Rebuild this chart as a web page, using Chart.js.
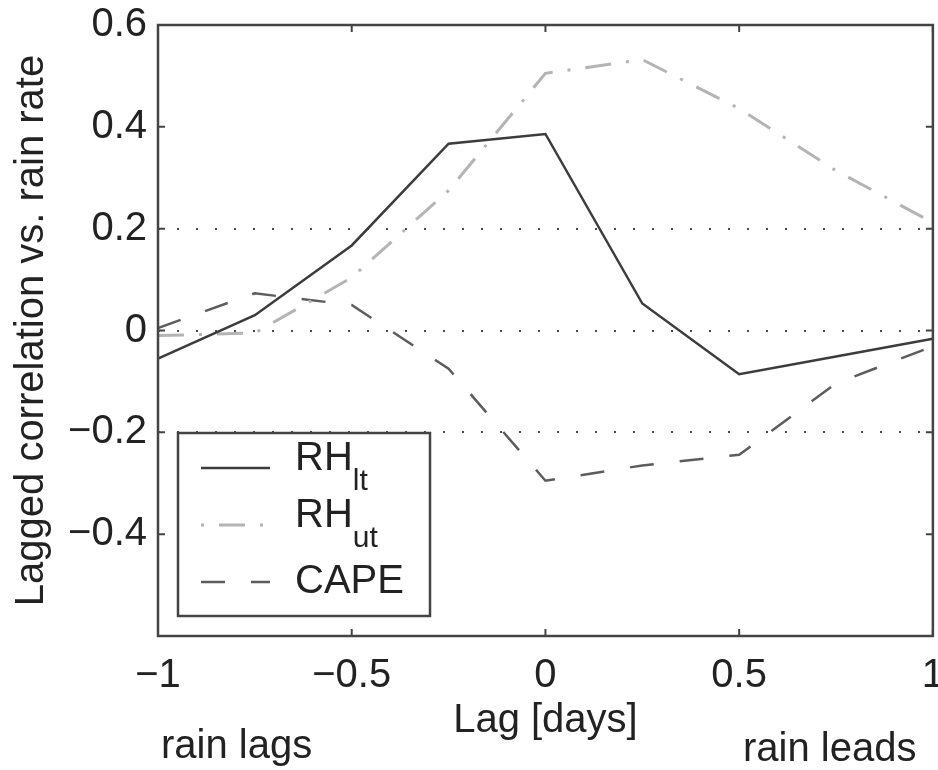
<!DOCTYPE html>
<html><head><meta charset="utf-8">
<script src="https://cdn.jsdelivr.net/npm/chart.js@4.4.1/dist/chart.umd.min.js"></script>
<style>
html,body{margin:0;padding:0;background:#fff;overflow:hidden;width:938px;height:770px}
canvas{display:block}
</style>
</head><body>
<canvas id="c" width="960" height="770" style="width:960px;height:770px"></canvas>
<script>
// ---- data ----
const lags = [-1, -0.75, -0.5, -0.25, 0, 0.25, 0.5, 0.75, 1];
const rhLt = [-0.055, 0.03, 0.167, 0.367, 0.386, 0.053, -0.086, -0.051, -0.016];
const rhUt = [-0.01, -0.005, 0.104, 0.275, 0.505, 0.532, 0.436, 0.314, 0.212];
const cape = [0.005, 0.073, 0.05, -0.075, -0.295, -0.265, -0.244, -0.104, -0.031];
const seriesNames = ['RH', 'RH', 'CAPE'];
const seriesSubs = ['lt', 'ut', ''];
const xTickValues = [-1, -0.5, 0, 0.5, 1];
const xTickLabels = ['\u22121', '\u22120.5', '0', '0.5', '1'];
const yTickValues = [-0.6, -0.4, -0.2, 0, 0.2, 0.4, 0.6];
const yTickLabels = ['', '\u22120.4', '\u22120.2', '0', '0.2', '0.4', '0.6'];
const refLines = [-0.2, 0, 0.2];
const xTitle = 'Lag [days]';
const yTitle = 'Lagged correlation vs. rain rate';
const leftNote = 'rain lags';
const rightNote = 'rain leads';

const FONT = '"Liberation Sans", Arial, Helvetica, sans-serif';
const TEXT = '#222';
const AXIS = '#444';

function pts(vals) { return lags.map((x, i) => ({ x: x, y: vals[i] })); }

const framePlugin = {
  id: 'frame',
  afterDatasetsDraw(chart) {
    const ctx = chart.ctx, ca = chart.chartArea;
    const xs = chart.scales.x, ys = chart.scales.y;
    ctx.save();
    ctx.strokeStyle = AXIS;
    ctx.lineWidth = 2.5;
    ctx.setLineDash([]);
    ctx.strokeRect(ca.left, ca.top, ca.right - ca.left, ca.bottom - ca.top);
    ctx.lineWidth = 2;
    const tl = 7;
    xTickValues.forEach(v => {
      const px = xs.getPixelForValue(v);
      ctx.beginPath();
      ctx.moveTo(px, ca.bottom); ctx.lineTo(px, ca.bottom - tl);
      ctx.moveTo(px, ca.top); ctx.lineTo(px, ca.top + tl);
      ctx.stroke();
    });
    yTickValues.forEach(v => {
      const py = ys.getPixelForValue(v);
      ctx.beginPath();
      ctx.moveTo(ca.left, py); ctx.lineTo(ca.left + tl, py);
      ctx.moveTo(ca.right, py); ctx.lineTo(ca.right - tl, py);
      ctx.stroke();
    });
    ctx.restore();

    // legend
    const bx = ca.left + 20, by = ca.top + 408, bw = 252, bh = 183;
    ctx.save();
    ctx.fillStyle = '#fff';
    ctx.fillRect(bx, by, bw, bh);
    ctx.strokeStyle = AXIS;
    ctx.lineWidth = 2.5;
    ctx.strokeRect(bx, by, bw, bh);
    const rowY = [35, 92, 149];
    chart.data.datasets.forEach((ds, i) => {
      const y = by + rowY[i];
      ctx.save();
      ctx.strokeStyle = ds.borderColor;
      ctx.lineWidth = ds.borderWidth;
      ctx.lineCap = 'butt';
      ctx.setLineDash(ds.borderDash || []);
      ctx.lineDashOffset = ds.legendDashOffset || 0;
      ctx.beginPath();
      ctx.moveTo(bx + 23, y); ctx.lineTo(bx + 92, y);
      ctx.stroke();
      ctx.restore();
      ctx.fillStyle = TEXT;
      ctx.textAlign = 'left';
      ctx.textBaseline = 'alphabetic';
      ctx.font = '40px ' + FONT;
      const tx = bx + 117;
      if (seriesSubs[i]) {
        ctx.fillText(seriesNames[i], tx, y + 2);
        const w = ctx.measureText(seriesNames[i]).width;
        ctx.font = '30px ' + FONT;
        ctx.fillText(seriesSubs[i], tx + w, y + 22);
      } else {
        ctx.fillText(seriesNames[i], tx, y + 11);
      }
    });
    ctx.restore();
  },
  afterDraw(chart) {
    const ctx = chart.ctx;
    ctx.save();
    ctx.fillStyle = TEXT;
    ctx.font = '40px ' + FONT;
    ctx.textBaseline = 'alphabetic';
    ctx.textAlign = 'left';
    ctx.fillText(leftNote, 161, 758);
    ctx.fillText(rightNote, 743, 761);
    ctx.restore();
  }
};

new Chart(document.getElementById('c'), {
  type: 'line',
  data: {
    datasets: [
      { label: 'RHlt', data: pts(rhLt), borderColor: '#3c3c3c', borderWidth: 2.5,
        borderDash: [], pointRadius: 0, tension: 0, fill: false },
      { label: 'RHut', data: pts(rhUt), borderColor: '#b4b4b4', borderWidth: 3,
        borderDash: [26, 15, 3, 15], legendDashOffset: 41, pointRadius: 0, tension: 0, fill: false,
        borderCapStyle: 'butt' },
      { label: 'CAPE', data: pts(cape), borderColor: '#5c5c5c', borderWidth: 2.5,
        borderDash: [24, 26], pointRadius: 0, tension: 0, fill: false, borderCapStyle: 'butt' }
    ]
  },
  options: {
    responsive: false,
    devicePixelRatio: 1,
    animation: false,
    layout: { padding: { left: 0, right: 25, top: 25, bottom: 0 } },
    plugins: { legend: { display: false }, tooltip: { enabled: false } },
    scales: {
      x: {
        type: 'linear', min: -1, max: 1,
        afterBuildTicks: s => { s.ticks = xTickValues.map(v => ({ value: v })); },
        afterFit: s => { s.height = 134; },
        ticks: { callback: (v, i) => xTickLabels[i], color: TEXT, padding: 16, maxRotation: 0,
                 font: { family: FONT, size: 40 } },
        grid: { display: false, drawTicks: false },
        border: { display: false },
        title: { display: true, text: xTitle, color: TEXT, font: { family: FONT, size: 40 },
                 padding: { top: 0, bottom: 25 } }
      },
      y: {
        type: 'linear', min: -0.6, max: 0.6,
        afterBuildTicks: s => { s.ticks = yTickValues.map(v => ({ value: v })); },
        afterFit: s => { s.width = 158; s.paddingTop = 0; s.paddingBottom = 0; },
        ticks: { callback: (v, i) => yTickLabels[i], color: TEXT, padding: 11,
                 font: { family: FONT, size: 40, lineHeight: 0.7 } },
        grid: {
          drawTicks: false, lineWidth: 2,
          color: c => (c.tick && refLines.some(r => Math.abs(r - c.tick.value) < 1e-9)) ? '#4a4a4a' : 'rgba(0,0,0,0)'
        },
        border: { display: false, dash: [2, 17] },
        title: { display: true, text: yTitle, color: TEXT, font: { family: FONT, size: 40 },
                 padding: { top: 8, bottom: 0 } }
      }
    }
  },
  plugins: [framePlugin]
});
</script>
</body></html>
